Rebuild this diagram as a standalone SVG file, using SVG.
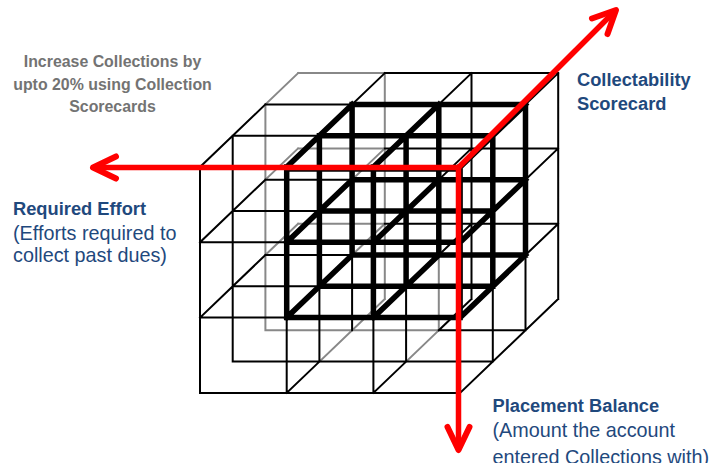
<svg xmlns="http://www.w3.org/2000/svg" width="723" height="463" viewBox="0 0 723 463">
<style>
.thin{fill:none;stroke:#000;stroke-width:2;stroke-linecap:square}
.gray{fill:none;stroke:#888;stroke-width:2;stroke-linecap:square}
.thick{fill:none;stroke:#000;stroke-width:5.5;stroke-linecap:square}
.axis{fill:none;stroke:#FF0000;stroke-width:5.5;stroke-linejoin:miter}
.t{font-family:"Liberation Sans",Arial,sans-serif}
.title{font-weight:bold;font-size:15.9px;fill:#737373;text-anchor:middle}
.lb{font-weight:bold;font-size:18.3px;fill:#1F497D}
.lr{font-size:19.8px;fill:#1F497D}
</style>
<defs>
<marker id="chev" markerUnits="userSpaceOnUse" orient="auto-start-reverse" markerWidth="40" markerHeight="40" viewBox="-30 -20 40 40" refX="0" refY="0" overflow="visible">
<path d="M-23,-11 L0,0 L-23,11" fill="none" stroke="#FF0000" stroke-width="6" stroke-linecap="round" stroke-linejoin="round"/>
</marker>
</defs>
<rect width="723" height="463" fill="#fff"/>
<g id="cube">
<path class="gray" d="M298.1 73.1H384.8M298.1 148.4H384.8M298.1 223.7H384.8M384.8 73.1V299M265.4 104.4L298.1 73.1M265.4 179.7L298.1 148.4M265.4 255L298.1 223.7M352.1 179.7L384.8 148.4M352.1 255L384.8 223.7M319.4 361.6L384.8 299M265.4 104.4V330.3M265.4 330.3H438.8M438.8 255V330.3M406.1 361.6L438.8 330.3"/>
<path class="thin" d="M200 167H460.1M200 242.3H460.1M200 317.6H460.1M200 392.9H460.1M232.7 135.7H492.8M232.7 211H492.8M232.7 286.3H492.8M232.7 361.6H492.8M265.4 104.4H525.5M265.4 179.7H525.5M265.4 255H525.5M438.8 330.3H525.5M384.8 73.1H558.2M384.8 148.4H558.2M384.8 223.7H558.2M200 167V392.9M286.7 167V392.9M373.4 167V392.9M460.1 167V392.9M232.7 135.7V361.6M319.4 135.7V361.6M406.1 135.7V361.6M492.8 135.7V361.6M352.1 104.4V330.3M438.8 104.4V255M525.5 104.4V330.3M471.5 73.1V299M558.2 73.1V299M200 167L265.4 104.4M200 242.3L265.4 179.7M200 317.6L265.4 255M286.7 167L384.8 73.1M286.7 392.9L319.4 361.6M373.4 167L471.5 73.1M373.4 242.3L471.5 148.4M373.4 317.6L471.5 223.7M373.4 392.9L406.1 361.6M438.8 330.3L471.5 299M460.1 167L558.2 73.1M460.1 242.3L558.2 148.4M460.1 317.6L558.2 223.7M460.1 392.9L558.2 299"/>
<path class="thick" d="M286.7 169H460.1M286.7 242.3H460.1M286.7 317.6H460.1M319.4 135.7H492.8M319.4 211H492.8M319.4 286.3H492.8M352.1 104.4H525.5M352.1 179.7H525.5M352.1 255H525.5M286.7 167V317.6M373.4 167V317.6M460.1 167V317.6M319.4 135.7V286.3M406.1 135.7V286.3M492.8 135.7V286.3M352.1 104.4V255M438.8 104.4V255M525.5 104.4V255M286.7 167L352.1 104.4M286.7 242.3L352.1 179.7M286.7 317.6L352.1 255M373.4 167L438.8 104.4M373.4 242.3L438.8 179.7M373.4 317.6L438.8 255M460.1 167L525.5 104.4M460.1 242.3L525.5 179.7M460.1 317.6L525.5 255"/>
</g>
<g id="connectors">
<path class="axis" d="M93,167.5 H458.5 V450" marker-start="url(#chev)" marker-end="url(#chev)"/>
<path class="axis" d="M458.5,167.5 L616,10" marker-end="url(#chev)"/>
</g>
<g id="title">
<text class="t title" x="112.5" y="67">Increase Collections by</text>
<text class="t title" x="112.5" y="89.5">upto 20% using Collection</text>
<text class="t title" x="112.5" y="112">Scorecards</text>
</g>
<g id="required-effort">
<text class="t lb" x="13" y="215">Required Effort</text>
<text class="t lr" x="13" y="240">(Efforts required to</text>
<text class="t lr" x="13" y="262">collect past dues)</text>
</g>
<g id="collectability">
<text class="t lb" x="577" y="86">Collectability</text>
<text class="t lb" x="577" y="110">Scorecard</text>
</g>
<g id="placement-balance">
<text class="t lb" x="492.5" y="412">Placement Balance</text>
<text class="t lr" x="492.5" y="437">(Amount the account</text>
<text class="t lr" x="492.5" y="464">entered Collections with)</text>
</g>
</svg>
